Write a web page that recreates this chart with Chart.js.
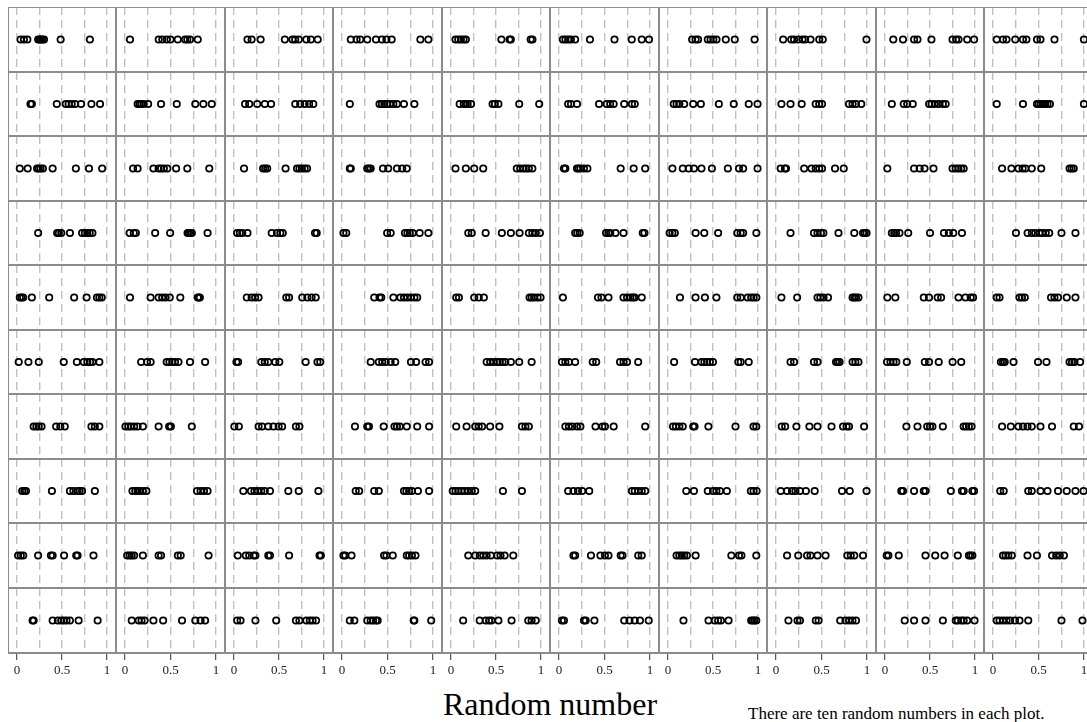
<!DOCTYPE html>
<html>
<head>
<meta charset="utf-8">
<script src="https://cdn.jsdelivr.net/npm/chart.js@4.4.0/dist/chart.umd.min.js"></script>
<style>
  html, body { margin: 0; padding: 0; background: #fff; overflow: hidden; }
  body { width: 1087px; height: 722px; position: relative; }
  #panels canvas { position: absolute; }
  #xtitle { position: absolute; left: 440px; top: 688px; width: 220px; text-align: center;
            font: 32px "Liberation Serif", serif; line-height: 32px; color: #000; white-space: nowrap; }
  #note { position: absolute; left: 748px; top: 705px; font: 17px "Liberation Serif", serif;
          line-height: 17px; color: #000; white-space: nowrap; }
</style>
</head>
<body>
<div id="panels"></div>
<div id="xtitle">Random number</div>
<div id="note">There are ten random numbers in each plot.</div>
<script>
// ten random numbers per panel, one array per row of panels (left to right)
const row1 = [
  [0.04, 0.077, 0.115, 0.235, 0.25, 0.265, 0.28, 0.30, 0.485, 0.81],
  [0.054, 0.37, 0.41, 0.46, 0.50, 0.58, 0.66, 0.685, 0.715, 0.80],
  [0.15, 0.196, 0.296, 0.565, 0.65, 0.68, 0.72, 0.804, 0.854, 0.93],
  [0.096, 0.16, 0.2, 0.277, 0.373, 0.438, 0.488, 0.546, 0.862, 0.95],
  [0.05, 0.08, 0.11, 0.14, 0.165, 0.56, 0.65, 0.665, 0.885, 0.905],
  [0.042, 0.07, 0.1, 0.13, 0.177, 0.34, 0.61, 0.80, 0.91, 0.99],
  [0.268, 0.307, 0.334, 0.442, 0.473, 0.504, 0.539, 0.642, 0.742, 0.962],
  [0.078, 0.167, 0.198, 0.244, 0.29, 0.32, 0.379, 0.475, 0.514, 0.995],
  [0.092, 0.2, 0.323, 0.361, 0.516, 0.75, 0.79, 0.817, 0.913, 0.99],
  [0.04, 0.109, 0.148, 0.244, 0.329, 0.367, 0.483, 0.522, 0.676, 1.0]
];
const row2 = [
  [0.15, 0.165, 0.442, 0.542, 0.573, 0.608, 0.646, 0.712, 0.827, 0.923],
  [0.138, 0.158, 0.177, 0.204, 0.254, 0.396, 0.569, 0.773, 0.862, 0.954],
  [0.123, 0.169, 0.258, 0.342, 0.412, 0.681, 0.735, 0.785, 0.835, 0.881],
  [0.085, 0.412, 0.438, 0.465, 0.496, 0.527, 0.565, 0.604, 0.681, 0.796],
  [0.096, 0.142, 0.165, 0.185, 0.223, 0.462, 0.488, 0.527, 0.758, 0.98],
  [0.1, 0.131, 0.197, 0.44, 0.524, 0.563, 0.601, 0.717, 0.802, 0.833],
  [0.064, 0.095, 0.126, 0.18, 0.28, 0.365, 0.565, 0.731, 0.897, 0.995],
  [0.059, 0.159, 0.282, 0.436, 0.475, 0.506, 0.803, 0.842, 0.88, 0.938],
  [0.076, 0.208, 0.247, 0.308, 0.49, 0.517, 0.555, 0.597, 0.643, 0.674],
  [0.04, 0.329, 0.483, 0.502, 0.525, 0.549, 0.572, 0.599, 0.626, 1.0]
];
const row3 = [
  [0.031, 0.119, 0.223, 0.242, 0.262, 0.288, 0.396, 0.654, 0.8, 0.946],
  [0.088, 0.138, 0.312, 0.369, 0.396, 0.427, 0.465, 0.562, 0.685, 0.927],
  [0.112, 0.323, 0.346, 0.369, 0.573, 0.7, 0.727, 0.754, 0.785, 0.812],
  [0.085, 0.096, 0.277, 0.296, 0.315, 0.45, 0.508, 0.604, 0.662, 0.712],
  [0.05, 0.165, 0.258, 0.358, 0.731, 0.769, 0.808, 0.835, 0.865, 0.904],
  [0.054, 0.069, 0.197, 0.216, 0.235, 0.274, 0.312, 0.678, 0.821, 0.948],
  [0.049, 0.164, 0.23, 0.288, 0.372, 0.488, 0.665, 0.789, 0.835, 0.995],
  [0.051, 0.097, 0.109, 0.309, 0.39, 0.436, 0.475, 0.506, 0.649, 0.745],
  [0.026, 0.323, 0.385, 0.439, 0.539, 0.75, 0.785, 0.816, 0.847, 0.874],
  [0.099, 0.202, 0.279, 0.325, 0.356, 0.426, 0.53, 0.842, 0.865, 0.888]
];
const row4 = [
  [0.235, 0.446, 0.465, 0.492, 0.588, 0.723, 0.754, 0.781, 0.808, 0.838],
  [0.05, 0.096, 0.119, 0.331, 0.496, 0.688, 0.704, 0.719, 0.735, 0.908],
  [0.035, 0.065, 0.092, 0.15, 0.419, 0.477, 0.515, 0.542, 0.9, 0.919],
  [0.015, 0.046, 0.496, 0.535, 0.692, 0.719, 0.746, 0.777, 0.854, 0.95],
  [0.192, 0.231, 0.385, 0.565, 0.665, 0.762, 0.865, 0.904, 0.942, 0.988],
  [0.177, 0.2, 0.227, 0.517, 0.544, 0.563, 0.621, 0.709, 0.921, 0.94],
  [0.018, 0.049, 0.076, 0.307, 0.403, 0.557, 0.769, 0.808, 0.835, 0.982],
  [0.159, 0.417, 0.456, 0.494, 0.521, 0.687, 0.861, 0.957, 0.976, 0.996],
  [0.076, 0.103, 0.123, 0.161, 0.258, 0.5, 0.655, 0.709, 0.759, 0.855],
  [0.252, 0.38, 0.426, 0.464, 0.51, 0.541, 0.58, 0.618, 0.753, 0.907]
];
const row5 = [
  [0.031, 0.05, 0.069, 0.165, 0.358, 0.635, 0.773, 0.888, 0.915, 0.942],
  [0.054, 0.281, 0.369, 0.408, 0.446, 0.492, 0.608, 0.8, 0.812, 0.823],
  [0.142, 0.196, 0.235, 0.273, 0.581, 0.612, 0.758, 0.815, 0.862, 0.908],
  [0.354, 0.412, 0.431, 0.565, 0.642, 0.681, 0.719, 0.758, 0.796, 0.827],
  [0.058, 0.088, 0.258, 0.308, 0.365, 0.873, 0.896, 0.923, 0.962, 0.995],
  [0.042, 0.428, 0.467, 0.544, 0.709, 0.748, 0.786, 0.813, 0.833, 0.91],
  [0.133, 0.306, 0.41, 0.538, 0.769, 0.808, 0.885, 0.924, 0.951, 0.982],
  [0.059, 0.232, 0.456, 0.487, 0.522, 0.572, 0.842, 0.861, 0.88, 0.907],
  [0.026, 0.115, 0.431, 0.489, 0.585, 0.624, 0.817, 0.894, 0.952, 0.979],
  [0.04, 0.071, 0.291, 0.318, 0.349, 0.638, 0.676, 0.715, 0.811, 0.907]
];
const row6 = [
  [0.019, 0.127, 0.242, 0.519, 0.665, 0.742, 0.781, 0.812, 0.838, 0.915],
  [0.177, 0.242, 0.281, 0.458, 0.488, 0.519, 0.55, 0.588, 0.715, 0.881],
  [0.027, 0.046, 0.304, 0.342, 0.381, 0.458, 0.504, 0.796, 0.927, 0.958],
  [0.315, 0.404, 0.442, 0.481, 0.535, 0.585, 0.758, 0.815, 0.919, 0.958],
  [0.396, 0.435, 0.473, 0.512, 0.542, 0.573, 0.604, 0.665, 0.758, 0.896],
  [0.031, 0.069, 0.108, 0.177, 0.37, 0.409, 0.671, 0.709, 0.748, 0.871],
  [0.068, 0.3, 0.373, 0.404, 0.434, 0.465, 0.5, 0.781, 0.808, 0.897],
  [0.159, 0.198, 0.417, 0.456, 0.66, 0.68, 0.699, 0.842, 0.873, 0.907],
  [0.022, 0.061, 0.095, 0.126, 0.242, 0.442, 0.489, 0.597, 0.751, 0.847],
  [0.086, 0.109, 0.128, 0.225, 0.495, 0.588, 0.842, 0.869, 0.896, 0.958]
];
const row7 = [
  [0.185, 0.215, 0.242, 0.273, 0.435, 0.481, 0.531, 0.827, 0.865, 0.915],
  [0.004, 0.035, 0.062, 0.1, 0.138, 0.196, 0.369, 0.485, 0.504, 0.735],
  [0.004, 0.054, 0.273, 0.312, 0.381, 0.438, 0.496, 0.535, 0.688, 0.727],
  [0.142, 0.277, 0.296, 0.458, 0.577, 0.604, 0.635, 0.712, 0.827, 0.958],
  [0.058, 0.173, 0.269, 0.308, 0.346, 0.435, 0.538, 0.788, 0.827, 0.865],
  [0.069, 0.108, 0.146, 0.197, 0.235, 0.401, 0.478, 0.505, 0.601, 0.948],
  [0.056, 0.087, 0.126, 0.164, 0.28, 0.295, 0.449, 0.75, 0.95, 0.981],
  [0.062, 0.1, 0.224, 0.367, 0.456, 0.61, 0.737, 0.776, 0.803, 0.969],
  [0.238, 0.361, 0.469, 0.5, 0.527, 0.643, 0.874, 0.901, 0.932, 0.962],
  [0.099, 0.195, 0.279, 0.329, 0.379, 0.426, 0.522, 0.649, 0.888, 0.946]
];
const row8 = [
  [0.058, 0.081, 0.1, 0.388, 0.588, 0.627, 0.673, 0.696, 0.723, 0.865],
  [0.081, 0.112, 0.138, 0.158, 0.196, 0.235, 0.792, 0.831, 0.869, 0.908],
  [0.104, 0.188, 0.227, 0.265, 0.304, 0.342, 0.4, 0.604, 0.719, 0.938],
  [0.15, 0.188, 0.354, 0.404, 0.681, 0.708, 0.738, 0.769, 0.835, 0.958],
  [0.019, 0.05, 0.081, 0.115, 0.15, 0.188, 0.231, 0.269, 0.577, 0.788],
  [0.1, 0.158, 0.208, 0.254, 0.332, 0.802, 0.833, 0.871, 0.91, 0.948],
  [0.203, 0.288, 0.442, 0.5, 0.538, 0.577, 0.654, 0.92, 0.95, 0.985],
  [0.051, 0.121, 0.175, 0.213, 0.263, 0.328, 0.425, 0.726, 0.811, 0.996],
  [0.181, 0.2, 0.323, 0.431, 0.45, 0.732, 0.855, 0.874, 0.971, 0.99],
  [0.079, 0.117, 0.387, 0.426, 0.522, 0.599, 0.715, 0.811, 0.907, 0.996]
];
const row9 = [
  [0.012, 0.042, 0.069, 0.235, 0.377, 0.396, 0.523, 0.658, 0.673, 0.85],
  [0.023, 0.05, 0.073, 0.1, 0.196, 0.369, 0.396, 0.581, 0.612, 0.919],
  [0.042, 0.131, 0.169, 0.219, 0.238, 0.381, 0.4, 0.612, 0.95, 0.965],
  [0.015, 0.035, 0.104, 0.462, 0.488, 0.558, 0.712, 0.738, 0.769, 0.808],
  [0.192, 0.269, 0.319, 0.358, 0.396, 0.442, 0.512, 0.55, 0.596, 0.692],
  [0.158, 0.177, 0.351, 0.455, 0.505, 0.544, 0.678, 0.698, 0.871, 0.91],
  [0.095, 0.126, 0.153, 0.18, 0.21, 0.307, 0.704, 0.789, 0.816, 0.981],
  [0.121, 0.244, 0.341, 0.379, 0.456, 0.545, 0.784, 0.822, 0.861, 0.957],
  [0.019, 0.038, 0.153, 0.45, 0.558, 0.662, 0.809, 0.932, 0.951, 0.971],
  [0.109, 0.137, 0.168, 0.206, 0.379, 0.483, 0.649, 0.695, 0.734, 0.78]
];
const row10 = [
  [0.173, 0.185, 0.396, 0.454, 0.492, 0.519, 0.55, 0.588, 0.685, 0.896],
  [0.073, 0.15, 0.181, 0.215, 0.312, 0.419, 0.627, 0.773, 0.831, 0.881],
  [0.035, 0.073, 0.238, 0.469, 0.688, 0.727, 0.804, 0.842, 0.873, 0.912],
  [0.085, 0.135, 0.277, 0.315, 0.342, 0.373, 0.392, 0.788, 0.796, 0.981],
  [0.135, 0.319, 0.385, 0.423, 0.45, 0.527, 0.673, 0.858, 0.896, 0.942],
  [0.031, 0.054, 0.274, 0.293, 0.389, 0.717, 0.775, 0.833, 0.891, 0.987],
  [0.172, 0.45, 0.519, 0.557, 0.588, 0.673, 0.924, 0.943, 0.962, 0.981],
  [0.136, 0.236, 0.263, 0.437, 0.468, 0.706, 0.764, 0.803, 0.841, 0.88],
  [0.219, 0.323, 0.45, 0.643, 0.786, 0.809, 0.848, 0.874, 0.913, 0.995],
  [0.04, 0.071, 0.109, 0.148, 0.187, 0.241, 0.291, 0.387, 0.753, 0.984]
];

const gridTicks = [0, 0.25, 0.5, 0.75, 1];
const tickLabels = ['0', '', '0.5', '', '1'];

const rows = [row1, row2, row3, row4, row5, row6, row7, row8, row9, row10];

// panel layout (px)
const LEFT = 7.6, TOP = 7, COL_W = 108.5, ROW_H = 64.56, AXIS_H = 30;

// box round each panel
const frame = {
  id: 'frame',
  afterDraw(chart) {
    const { ctx, chartArea: a } = chart;
    ctx.save();
    ctx.strokeStyle = '#8c8c8c';
    ctx.lineWidth = 2;
    ctx.strokeRect(a.left, a.top, a.right - a.left, a.bottom - a.top);
    ctx.restore();
  }
};

const holder = document.getElementById('panels');

rows.forEach((row, r) => {
  const bottomRow = r === rows.length - 1;
  row.forEach((vals, c) => {
    const x0 = Math.round(LEFT + c * COL_W);
    const x1 = Math.round(LEFT + (c + 1) * COL_W);
    const y0 = Math.round(TOP + r * ROW_H);
    const y1 = Math.round(TOP + (r + 1) * ROW_H);
    const cv = document.createElement('canvas');
    cv.width = x1 - x0;
    cv.height = (y1 - y0) + (bottomRow ? AXIS_H : 0);
    cv.style.left = x0 + 'px';
    cv.style.top = y0 + 'px';
    holder.appendChild(cv);

    new Chart(cv, {
      type: 'scatter',
      data: {
        datasets: [{
          data: vals.map(v => ({ x: v, y: 0 })),
          pointStyle: 'circle',
          pointRadius: 3.2,
          borderWidth: 1.7,
          borderColor: '#000',
          backgroundColor: 'rgba(0,0,0,0)'
        }]
      },
      options: {
        responsive: false,
        animation: false,
        devicePixelRatio: 1,
        events: [],
        layout: { autoPadding: false, padding: 0 },
        plugins: { legend: { display: false }, tooltip: { enabled: false } },
        scales: {
          x: {
            type: 'linear',
            min: -0.1,
            max: 1.1,
            afterBuildTicks: axis => { axis.ticks = gridTicks.map(v => ({ value: v })); },
            afterFit: axis => { axis.height = bottomRow ? AXIS_H : 0; },
            grid: {
              color: '#c0c0c0',
              lineWidth: 1.4,
              drawTicks: bottomRow,
              tickLength: 7,
              tickWidth: 1,
              tickColor: ctx => tickLabels[ctx.index] ? '#333' : 'rgba(0,0,0,0)'
            },
            border: { display: false, dash: [8, 5] },
            ticks: {
              display: bottomRow,
              autoSkip: false,
              maxRotation: 0,
              padding: 3,
              color: '#222',
              font: { family: 'Liberation Serif', size: 13 },
              callback: (v, i) => tickLabels[i]
            }
          },
          y: { display: false, min: -1, max: 1 }
        }
      },
      plugins: [frame]
    });
  });
});
</script>
</body>
</html>
